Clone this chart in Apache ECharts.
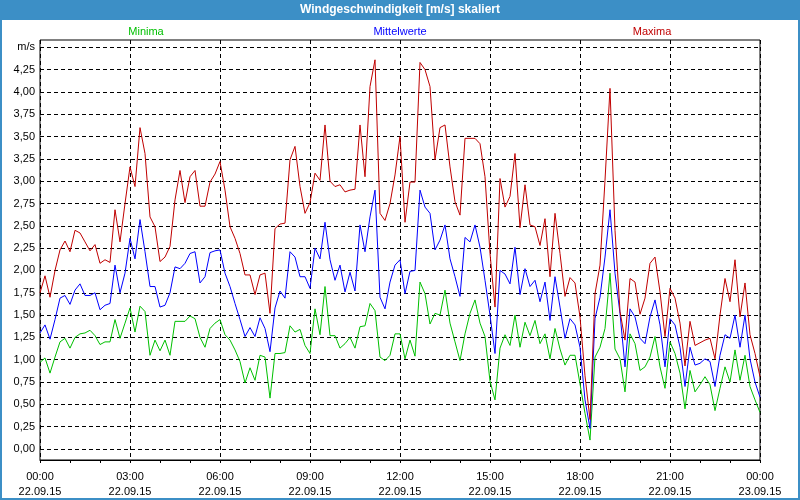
<!DOCTYPE html>
<html>
<head>
<meta charset="utf-8">
<script src="https://cdn.jsdelivr.net/npm/echarts@6/dist/echarts.min.js"></script>
<style>html,body{margin:0;padding:0;background:#fff}#c{width:800px;height:500px}</style>
</head>
<body>
<div id="c"></div>
<script>
// 10-minute values, 22.09.15 00:00 .. 23.09.15 00:00 (145 points)
var maxima = [
1.75,1.94,1.70,2.00,2.23,2.33,2.21,2.45,2.42,2.32,2.22,2.29,2.08,2.12,2.09,2.68,2.32,2.75,3.16,2.94,3.60,3.31,2.60,2.49,2.10,
2.15,2.27,2.79,3.12,2.76,3.05,3.12,2.72,2.72,2.99,3.08,3.22,2.90,2.49,2.36,2.19,1.95,1.95,1.73,1.95,1.97,1.52,2.47,2.52,
2.53,3.24,3.39,2.94,2.64,2.76,3.09,3.01,3.63,3.00,2.94,2.96,2.88,2.90,2.91,3.63,3.05,4.06,4.36,2.64,2.56,2.75,3.07,3.50,
2.54,2.99,2.99,4.33,4.25,4.06,3.24,3.60,3.63,3.16,2.77,2.62,3.48,3.48,3.48,3.42,3.05,2.19,1.59,3.03,2.71,2.83,3.31,2.48,
2.96,2.51,2.49,2.28,2.58,1.93,2.64,2.19,1.71,1.92,1.86,1.48,0.82,0.33,1.74,2.06,3.01,4.04,2.45,1.54,1.22,1.91,1.87,1.51,
1.69,2.08,2.15,1.76,1.26,1.80,1.69,1.41,0.93,1.43,1.16,1.19,1.22,1.24,1.01,1.50,1.91,1.65,2.12,1.48,1.86,1.28,1.07,0.81
];
var mittelwerte = [
1.30,1.39,1.23,1.45,1.69,1.72,1.62,1.78,1.85,1.72,1.72,1.75,1.56,1.61,1.63,2.06,1.75,1.97,2.36,2.13,2.57,2.21,1.82,1.82,1.59,
1.61,1.75,2.04,2.02,2.08,2.19,2.21,1.86,1.93,2.20,2.22,2.23,1.97,1.82,1.63,1.45,1.26,1.36,1.26,1.47,1.35,1.09,1.58,1.77,
1.69,2.21,2.15,1.93,1.93,1.80,2.25,2.13,2.54,2.12,1.89,2.06,1.76,1.98,1.77,2.51,2.21,2.60,2.90,1.70,1.57,1.87,2.06,2.12,
1.74,1.99,2.00,2.90,2.71,2.64,2.23,2.34,2.51,2.13,1.93,1.71,2.37,2.32,2.51,2.26,1.89,1.50,1.07,2.00,1.96,1.85,2.26,1.73,
2.02,1.82,1.89,1.65,1.87,1.44,1.93,1.59,1.24,1.46,1.39,1.14,0.55,0.23,1.46,1.70,2.15,2.68,1.97,1.52,0.92,1.57,1.48,1.24,
1.18,1.48,1.67,1.39,0.92,1.46,1.39,1.14,0.70,1.14,0.94,0.96,1.01,0.98,0.70,1.05,1.28,1.24,1.50,1.14,1.50,1.01,0.75,0.58
];
var minima = [
0.97,1.02,0.85,1.03,1.20,1.24,1.13,1.25,1.29,1.30,1.33,1.27,1.17,1.20,1.20,1.45,1.24,1.41,1.58,1.31,1.60,1.54,1.05,1.22,1.10,
1.22,1.05,1.43,1.43,1.43,1.49,1.46,1.25,1.14,1.35,1.41,1.45,1.28,1.22,1.11,0.98,0.74,0.91,0.77,1.05,1.03,0.57,1.07,1.07,
1.08,1.38,1.31,1.34,1.16,1.07,1.57,1.28,1.82,1.27,1.27,1.13,1.18,1.25,1.13,1.37,1.38,1.63,1.55,1.03,0.99,1.05,1.29,1.29,
1.01,1.22,1.04,1.87,1.74,1.40,1.52,1.50,1.78,1.41,1.20,0.99,1.29,1.52,1.67,1.41,1.26,0.76,0.55,1.13,1.28,1.16,1.50,1.14,
1.42,1.27,1.44,1.18,1.29,1.01,1.35,1.12,0.94,1.05,1.05,0.73,0.40,0.10,1.03,1.14,1.35,1.97,1.12,1.01,0.64,1.29,1.18,0.88,
0.92,1.03,1.26,0.92,0.68,1.20,1.07,0.85,0.45,0.88,0.64,0.72,0.81,0.72,0.43,0.68,0.92,0.75,1.11,0.77,1.05,0.70,0.55,0.41
];
var xTickLabels = ['00:00\n22.09.15','03:00\n22.09.15','06:00\n22.09.15','09:00\n22.09.15','12:00\n22.09.15',
                   '15:00\n22.09.15','18:00\n22.09.15','21:00\n22.09.15','00:00\n23.09.15'];
var stepHours = 1/6; // 10-minute sampling
var titleText = 'Windgeschwindigkeit [m/s] skaliert';
var seriesNames = ['Minima','Mittelwerte','Maxima'];
var colors = ['#00c000','#0000ff','#c00000'];

function toPairs(arr){ return arr.map(function(v,i){ return [i*stepHours, v]; }); }

var FONT = 'Liberation Sans';
var chart = echarts.init(document.getElementById('c'), null, {renderer:'canvas'});
var dash = [4,3];
chart.setOption({
  animation:false,
  backgroundColor:'#ffffff',
  textStyle:{fontFamily:FONT},
  grid:[
    {left:40, right:40, top:47.3, bottom:51, show:false},
    {left:40, right:40, top:40, bottom:40, show:true, borderColor:'#000', borderWidth:1, backgroundColor:'transparent'}
  ],
  xAxis:[
    {gridIndex:0, type:'value', min:0, max:24, interval:3, show:false},
    {gridIndex:1, type:'value', min:0, max:24, interval:3,
     axisLine:{show:true, lineStyle:{color:'#000', width:1}},
     axisTick:{show:true, length:3, lineStyle:{color:'#000'}},
     minorTick:{show:true, splitNumber:3, length:3, lineStyle:{color:'#000'}},
     splitLine:{show:true, lineStyle:{color:'#000', type:dash, width:1}},
     axisLabel:{color:'#000', fontFamily:FONT, fontSize:11, lineHeight:15, margin:9,
       formatter:function(v){ return xTickLabels[Math.round(v/3)]; }}
    }
  ],
  yAxis:[
    {gridIndex:0, type:'value', min:0, max:4.5, interval:0.25,
     axisLine:{show:false}, axisTick:{show:false},
     splitLine:{show:true, lineStyle:{color:'#000', type:dash, width:1}},
     axisLabel:{color:'#000', fontFamily:FONT, fontSize:11, margin:5,
       formatter:function(v){ return Math.abs(v-4.5)<1e-9 ? 'm/s' : v.toFixed(2).replace('.',','); }}
    },
    {gridIndex:1, type:'value', min:0, max:1, show:false}
  ],
  series:[
    {name:seriesNames[0], type:'line', xAxisIndex:0, yAxisIndex:0, data:toPairs(minima), showSymbol:false, symbol:'none',
     lineStyle:{color:colors[0], width:1}, itemStyle:{color:colors[0]}},
    {name:seriesNames[1], type:'line', xAxisIndex:0, yAxisIndex:0, data:toPairs(mittelwerte), showSymbol:false, symbol:'none',
     lineStyle:{color:colors[1], width:1}, itemStyle:{color:colors[1]}},
    {name:seriesNames[2], type:'line', xAxisIndex:0, yAxisIndex:0, data:toPairs(maxima), showSymbol:false, symbol:'none',
     lineStyle:{color:colors[2], width:1}, itemStyle:{color:colors[2]}}
  ],
  graphic:[
    {type:'rect', shape:{x:0, y:0, width:800, height:20}, style:{fill:'#3c8fc6'}, silent:true},
    {type:'rect', shape:{x:1, y:1, width:798, height:498}, style:{fill:'none', stroke:'#3c8fc6', lineWidth:2}, silent:true},
    {type:'text', x:400, y:10, style:{text:titleText, fill:'#fff', font:'bold 12px "Liberation Sans"', align:'center', verticalAlign:'middle'}},
    {type:'text', x:146, y:32, style:{text:seriesNames[0], fill:colors[0], font:'11px "Liberation Sans"', align:'center', verticalAlign:'middle'}},
    {type:'text', x:400, y:32, style:{text:seriesNames[1], fill:colors[1], font:'11px "Liberation Sans"', align:'center', verticalAlign:'middle'}},
    {type:'text', x:652, y:32, style:{text:seriesNames[2], fill:colors[2], font:'11px "Liberation Sans"', align:'center', verticalAlign:'middle'}}
  ]
});
</script>
</body>
</html>
